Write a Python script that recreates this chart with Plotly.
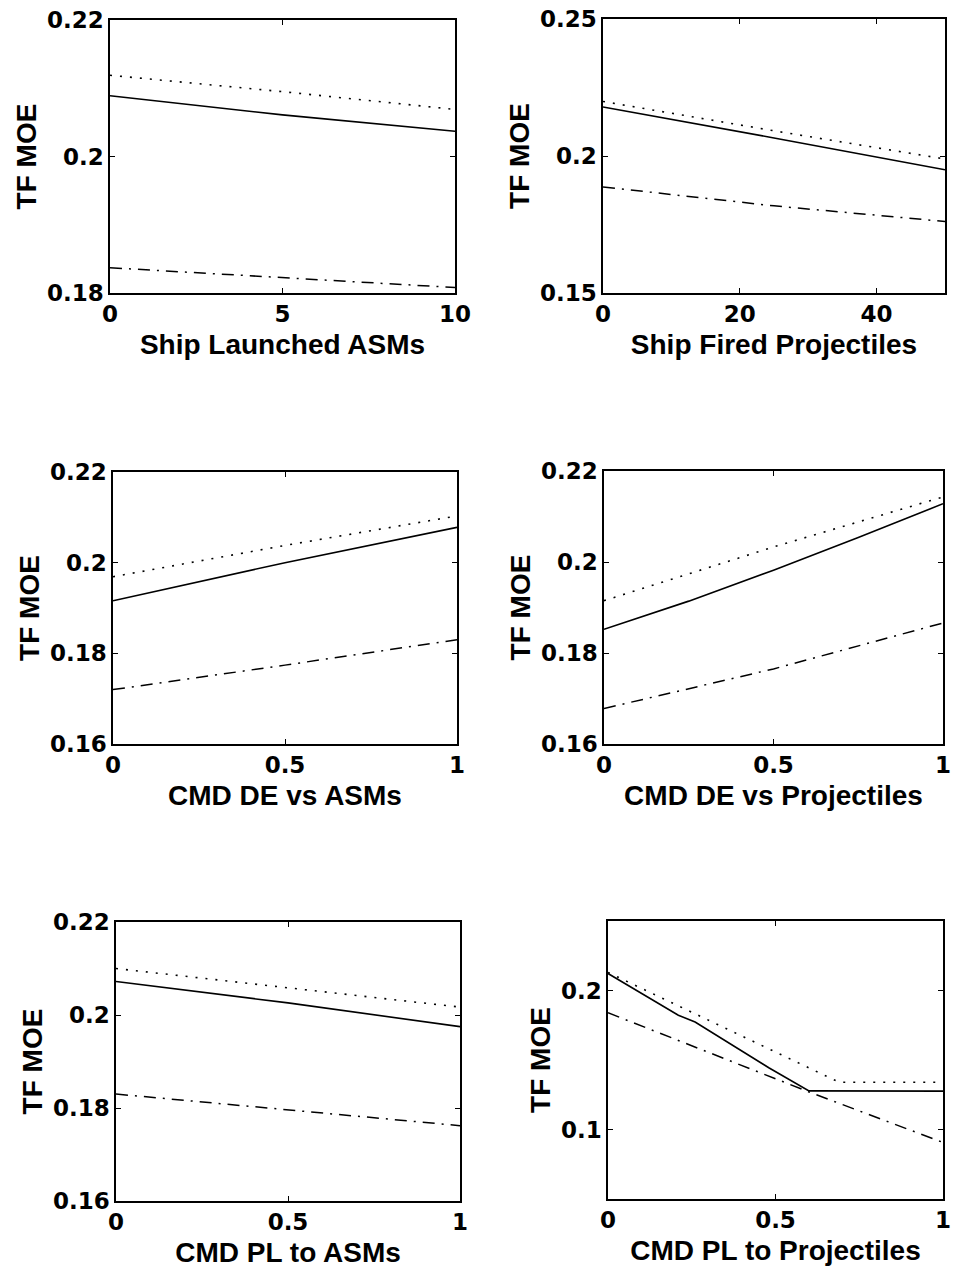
import plotly.graph_objects as go

# ---- data ----------------------------------------------------------------
# Panel 1: Ship Launched ASMs
asm_launch_x = [0, 5, 10]
asm_launch_solid = [0.2089, 0.2061, 0.2037]
asm_launch_dotted = [0.2119, 0.2095, 0.2069]
asm_launch_dashdot = [0.1837, 0.1823, 0.1808]

# Panel 2: Ship Fired Projectiles
proj_fire_x = [0, 25, 50]
proj_fire_solid = [0.2179, 0.2066, 0.1950]
proj_fire_dotted = [0.2199, 0.2092, 0.1989]
proj_fire_dashdot = [0.1887, 0.1818, 0.1761]

# Panel 3: CMD DE vs ASMs
de_asm_x = [0, 0.5, 1]
de_asm_solid = [0.1916, 0.2000, 0.2078]
de_asm_dotted = [0.1969, 0.2038, 0.2103]
de_asm_dashdot = [0.1720, 0.1774, 0.1830]

# Panel 4: CMD DE vs Projectiles
de_proj_x = [0, 0.25, 0.5, 0.75, 1]
de_proj_solid = [0.1852, 0.1914, 0.1982, 0.2054, 0.2128]
de_proj_dotted_x = [0, 0.5, 1]
de_proj_dotted = [0.1915, 0.2033, 0.2143]
de_proj_dashdot_x = [0, 0.5, 1]
de_proj_dashdot = [0.1678, 0.1765, 0.1866]

# Panel 5: CMD PL to ASMs
pl_asm_x = [0, 0.5, 1]
pl_asm_solid = [0.2072, 0.2026, 0.1975]
pl_asm_dotted = [0.2100, 0.2058, 0.2017]
pl_asm_dashdot = [0.1830, 0.1796, 0.1762]

# Panel 6: CMD PL to Projectiles
pl_proj_solid_x = [0, 0.21, 0.26, 0.48, 0.6, 1]
pl_proj_solid = [0.2122, 0.1822, 0.1773, 0.1444, 0.1278, 0.1276]
pl_proj_dotted_x = [0, 0.5, 0.69, 1]
pl_proj_dotted = [0.2130, 0.1554, 0.1340, 0.1340]
pl_proj_dashdot_x = [0, 0.6, 1]
pl_proj_dashdot = [0.1840, 0.1270, 0.0907]

x_titles = ["Ship Launched ASMs", "Ship Fired Projectiles",
            "CMD DE vs ASMs", "CMD DE vs Projectiles",
            "CMD PL to ASMs", "CMD PL to Projectiles"]
y_title = "TF MOE"

x_ranges = [[0, 10], [0, 50], [0, 1], [0, 1], [0, 1], [0, 1]]
x_tickvals = [[0, 5, 10], [0, 20, 40], [0, 0.5, 1], [0, 0.5, 1], [0, 0.5, 1], [0, 0.5, 1]]
x_ticktext = [["0", "5", "10"], ["0", "20", "40"], ["0", "0.5", "1"],
              ["0", "0.5", "1"], ["0", "0.5", "1"], ["0", "0.5", "1"]]

y_ranges = [[0.18, 0.22], [0.15, 0.25], [0.16, 0.22], [0.16, 0.22], [0.16, 0.22], [0.05, 0.25]]
y_tickvals = [[0.18, 0.2, 0.22], [0.15, 0.2, 0.25], [0.16, 0.18, 0.2, 0.22],
              [0.16, 0.18, 0.2, 0.22], [0.16, 0.18, 0.2, 0.22], [0.1, 0.2]]
y_ticktext = [["0.18", "0.2", "0.22"], ["0.15", "0.2", "0.25"], ["0.16", "0.18", "0.2", "0.22"],
              ["0.16", "0.18", "0.2", "0.22"], ["0.16", "0.18", "0.2", "0.22"], ["0.1", "0.2"]]

# (x, y) pairs for each panel: solid, dotted, dash-dot
panels = [
    [(asm_launch_x, asm_launch_solid), (asm_launch_x, asm_launch_dotted), (asm_launch_x, asm_launch_dashdot)],
    [(proj_fire_x, proj_fire_solid), (proj_fire_x, proj_fire_dotted), (proj_fire_x, proj_fire_dashdot)],
    [(de_asm_x, de_asm_solid), (de_asm_x, de_asm_dotted), (de_asm_x, de_asm_dashdot)],
    [(de_proj_x, de_proj_solid), (de_proj_dotted_x, de_proj_dotted), (de_proj_dashdot_x, de_proj_dashdot)],
    [(pl_asm_x, pl_asm_solid), (pl_asm_x, pl_asm_dotted), (pl_asm_x, pl_asm_dashdot)],
    [(pl_proj_solid_x, pl_proj_solid), (pl_proj_dotted_x, pl_proj_dotted), (pl_proj_dashdot_x, pl_proj_dashdot)],
]

# ---- layout geometry (pixels) --------------------------------------------
W, H = 953, 1278
boxes = [  # left, right, top, bottom
    (110, 455, 20, 293),
    (603, 945, 19, 293),
    (113, 457, 472, 744),
    (604, 943, 471, 744),
    (116, 460, 922, 1201),
    (608, 943, 921, 1199),
]

line_styles = [
    dict(color="black", width=1.6, dash="solid"),
    dict(color="black", width=1.6, dash="2px,8px"),
    dict(color="black", width=1.5, dash="12px,7px,2px,7px"),
]

tick_font = dict(family="DejaVu Sans", size=23, color="black", weight="bold")
title_font = dict(family="Liberation Sans, Arial", size=28, color="black", weight="bold")

fig = go.Figure()
layout = dict(
    width=W, height=H,
    margin=dict(l=0, r=0, t=0, b=0),
    paper_bgcolor="white", plot_bgcolor="white",
    showlegend=False,
)

for i, (series, box) in enumerate(zip(panels, boxes)):
    n = i + 1
    xa = "x" if n == 1 else f"x{n}"
    ya = "y" if n == 1 else f"y{n}"
    for (xs, ys), st in zip(series, line_styles):
        fig.add_trace(go.Scatter(x=xs, y=ys, mode="lines", line=st,
                                 xaxis=xa, yaxis=ya, hoverinfo="skip"))
    l, r, t, b = box
    common = dict(
        showline=True, linecolor="black", linewidth=1.5, mirror="ticks",
        ticks="inside", ticklen=5, tickwidth=1, tickcolor="black",
        showgrid=False, zeroline=False, tickfont=tick_font,
        tickmode="array", automargin=False, ticklabeloverflow="allow",
    )
    layout[f"xaxis{'' if n == 1 else n}"] = dict(
        common, domain=[l / W, r / W], anchor=ya, range=x_ranges[i],
        tickvals=x_tickvals[i], ticktext=x_ticktext[i],
        title=dict(text=x_titles[i], font=title_font, standoff=8),
    )
    layout[f"yaxis{'' if n == 1 else n}"] = dict(
        common, domain=[1 - b / H, 1 - t / H], anchor=xa, range=y_ranges[i],
        tickvals=y_tickvals[i], ticktext=y_ticktext[i],
        title=dict(text=y_title, font=title_font, standoff=2),
    )

fig.update_layout(**layout)
fig.write_html("out.html")
